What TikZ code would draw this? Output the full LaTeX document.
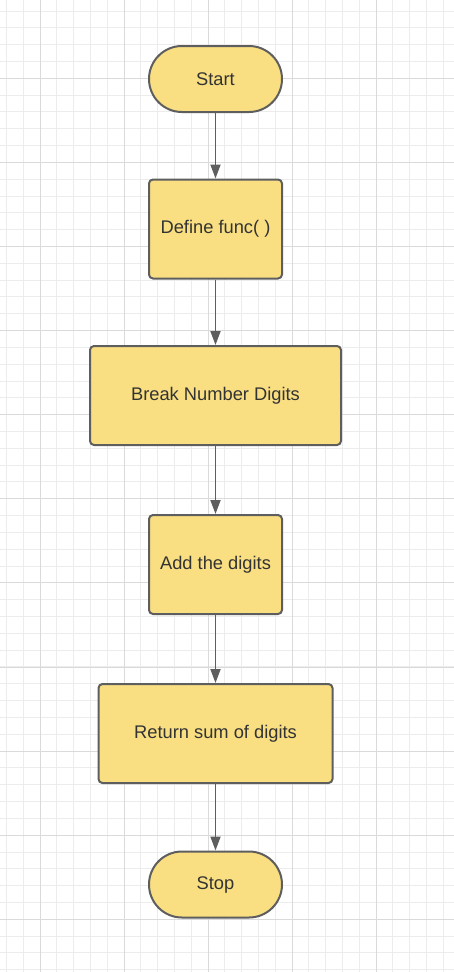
\documentclass[tikz,border=0pt]{standalone}
\usepackage{fontspec}
\setmainfont{Liberation Sans}
\usetikzlibrary{arrows.meta}
\definecolor{node_fill}{RGB}{249,223,130}
\definecolor{node_gray}{RGB}{94,94,94}
\definecolor{text_gray}{RGB}{51,51,51}
\definecolor{grid_minor}{RGB}{236,236,236}
\definecolor{grid_major}{RGB}{218,218,218}

\begin{document}
\begin{tikzpicture}[x=1pt,y=-1pt,->,>={Triangle[width=10pt,length=14pt]},line width=2pt]
    \tikzstyle{box}=[draw=node_gray, fill=node_fill, rectangle, rounded corners=4pt, text=text_gray, font=\fontsize{18.3}{22}\selectfont, minimum height=99pt, inner sep=0pt]
    \tikzstyle{term}=[style=box, rounded corners=33pt, minimum width=133pt, minimum height=66pt]
    \tikzstyle{flow}=[draw=node_gray, line width=1.8pt]

    % grid
    \fill[white] (0,0) rectangle (454,972);
    \useasboundingbox (0,0) rectangle (454,972);
    \foreach \i in {0,...,27} {
      \draw[-, grid_minor, line width=1pt] (6.4+16.8*\i,0) -- (6.4+16.8*\i,972);
    }
    \foreach \i in {0,...,57} {
      \draw[-, grid_minor, line width=1pt] (0,11.0+16.82*\i) -- (454,11.0+16.82*\i);
    }
    \foreach \i in {0,...,5} {
      \draw[-, grid_major, line width=1pt] (40+84*\i,0) -- (40+84*\i,972);
    }
    \foreach \i in {0,...,10} {
      \draw[-, grid_major, line width=1pt] (0,78.3+84.1*\i) -- (454,78.3+84.1*\i);
    }

    \node[term]                     (start)  at (215.5,79)    {Start};
    \node[box, minimum width=133pt] (define) at (215.5,229)   {Define func( )};
    \node[box, minimum width=251pt] (break)  at (215.5,395.5) {Break Number Digits};
    \node[box, minimum width=133pt] (add)    at (215.5,564.5) {Add the digits};
    \node[box, minimum width=234pt] (ret)    at (215.5,733.5) {Return sum of digits};
    \node[term]                     (stop)   at (215.5,884.5) {Stop};

    \path
     (start)  edge[flow] (define)
     (define) edge[flow] (break)
     (break)  edge[flow] (add)
     (add)    edge[flow] (ret)
     (ret)    edge[flow] (stop)
     ;
\end{tikzpicture}
\end{document}
